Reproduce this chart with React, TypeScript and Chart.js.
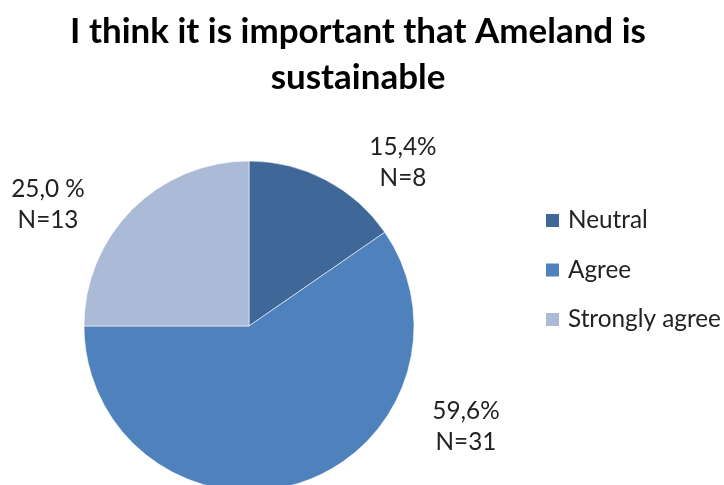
import React, { useEffect, useRef } from "react";
import { Chart, registerables } from "chart.js";

Chart.register(...registerables);

const categories = ["Neutral", "Agree", "Strongly agree"];
const counts = [8, 31, 13];
const percentLabels = ["15,4%", "59,6%", "25,0 %"];
const countLabels = ["N=8", "N=31", "N=13"];
const colors = ["#3F6899", "#4F81BD", "#AABAD7"];
const titleLines = ["I think it is important that Ameland is", "sustainable"];

// label block centres, in units of the pie radius relative to the pie centre
const LABEL_OFFSETS = [
  [0.933, -0.997],
  [1.315, 0.603],
  [-1.218, -0.742],
];

const FONT = "Lato, Carlito, 'Open Sans', sans-serif";

function fitSize(ctx: CanvasRenderingContext2D, text: string, weight: string, target: number, start: number) {
  ctx.font = `${weight} ${start}px ${FONT}`;
  const w = ctx.measureText(text).width;
  return (start * target) / w;
}

const textPlugin = {
  id: "texts",
  afterDraw(chart: any) {
    const ctx: CanvasRenderingContext2D = chart.ctx;
    const arc = chart.getDatasetMeta(0).data[0];
    const { x: cx, y: cy, outerRadius: r } = arc.getProps(["x", "y", "outerRadius"], true);
    ctx.save();

    // title
    const ts = fitSize(ctx, titleLines[0], "bold", 576, 30);
    ctx.font = `bold ${ts}px ${FONT}`;
    ctx.fillStyle = "#000";
    ctx.textAlign = "center";
    ctx.textBaseline = "alphabetic";
    ctx.fillText(titleLines[0], 358, 43);
    ctx.fillText(titleLines[1], 358, 89);

    // body text size
    const bs = fitSize(ctx, "Strongly agree", "normal", 153, 24);
    ctx.font = `normal ${bs}px ${FONT}`;
    ctx.fillStyle = "#222";

    // data labels
    const capHalf = bs * 0.36;
    ctx.textAlign = "center";
    LABEL_OFFSETS.forEach(([ox, oy], i) => {
      const bx = cx + ox * r;
      const by = cy + oy * r;
      ctx.fillText(percentLabels[i], bx, by - 15.5 + capHalf);
      ctx.fillText(countLabels[i], bx, by + 15.5 + capHalf);
    });

    // legend
    ctx.textAlign = "left";
    const bg = chart.data.datasets[0].backgroundColor as string[];
    chart.data.labels.forEach((lab: string, i: number) => {
      const base = 228 + i * 49.5;
      ctx.fillStyle = bg[i];
      ctx.fillRect(546, base - 14, 13, 13);
      ctx.fillStyle = "#222";
      ctx.fillText(lab, 568, base);
    });

    ctx.restore();
  },
};

export default function App() {
  const ref = useRef<HTMLCanvasElement | null>(null);
  useEffect(() => {
    if (!ref.current) return;
    const chart = new Chart(ref.current, {
      type: "pie",
      data: {
        labels: categories,
        datasets: [
          {
            data: counts,
            backgroundColor: colors,
            borderColor: "rgba(255,255,255,0.55)",
            borderWidth: 1,
            radius: 165,
          } as any,
        ],
      },
      options: {
        animation: false,
        responsive: false,
        layout: { padding: { left: 0, right: 226, top: 152, bottom: 0 } },
        plugins: {
          legend: { display: false },
          title: { display: false },
          tooltip: { enabled: false },
        },
      },
      plugins: [textPlugin],
    });
    return () => chart.destroy();
  }, []);
  return (
    <div style={{ position: "fixed", left: 0, top: 0, width: 724, height: 485, overflow: "hidden", background: "#fff" }}>
      <canvas ref={ref} width={724} height={500} style={{ display: "block" }} />
    </div>
  );
}
